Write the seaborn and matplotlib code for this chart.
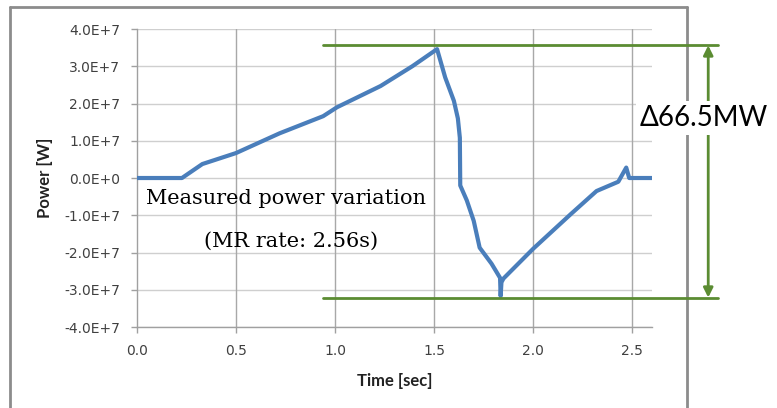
import numpy as np
import pandas as pd
import matplotlib
matplotlib.use("Agg")
import matplotlib.pyplot as plt
from matplotlib.lines import Line2D
from matplotlib.ticker import FuncFormatter
import seaborn as sns

# Measured power curve (time in s, power in 1e7 W)
time_s = [0.0, 0.227, 0.33, 0.5, 0.72, 0.94, 1.01, 1.23, 1.39, 1.515,
          1.556, 1.6, 1.62, 1.63, 1.632, 1.665, 1.70, 1.73, 1.79, 1.833,
          1.836, 1.84, 1.85, 2.0, 2.19, 2.32, 2.43, 2.47, 2.485, 2.6]
power_1e7 = [0.0, 0.0, 0.375, 0.67, 1.2, 1.66, 1.9, 2.47, 3.0, 3.46,
             2.7, 2.07, 1.6, 1.08, -0.2, -0.6, -1.15, -1.87, -2.3, -2.68,
             -3.17, -2.8, -2.7, -1.9, -0.97, -0.35, -0.1, 0.28, 0.0, 0.0]

# Max / min reference lines and annotation
max_line = 3.56e7
min_line = -3.21e7
line_x = [0.94, 2.934]
arrow_x = 2.884
delta_label = "\u039466.5MW"
note_lines = ["Measured power variation", "(MR rate: 2.56s)"]

x_ticks = [0.0, 0.5, 1.0, 1.5, 2.0, 2.5]
y_ticks = [-4e7, -3e7, -2e7, -1e7, 0, 1e7, 2e7, 3e7, 4e7]

df = pd.DataFrame({"time": time_s, "power": np.array(power_1e7) * 1e7})

sns.set_theme(style="white")
plt.rcParams['font.family'] = ['DejaVu Sans']

BLUE = "#4a7ebb"
GREEN = "#5b8c32"
GRID_H = "#cfcfcf"
GRID_V = "#a8a8a8"
TXT = "#404040"

fig = plt.figure(figsize=(7.77, 4.08), dpi=100)
ax = fig.add_axes([0.1763, 0.1985, 0.6628, 0.7304])

sns.lineplot(data=df, x="time", y="power", sort=False, estimator=None,
             color=BLUE, linewidth=3.0, ax=ax, zorder=3)

ax.set_xlim(0, 2.6)
ax.set_ylim(-4e7, 4e7)
ax.set_xticks(x_ticks)
ax.set_yticks(y_ticks)


def sci_fmt(v, pos):
    if v == 0:
        return "0.0E+0"
    return f"{v / 1e7:.1f}E+7"


ax.yaxis.set_major_formatter(FuncFormatter(sci_fmt))
ax.xaxis.set_major_formatter(FuncFormatter(lambda v, p: f"{v:.1f}"))

for y in y_ticks:
    ax.axhline(y, color=GRID_H, lw=1.0, zorder=1)
for x in x_ticks[1:]:
    ax.axvline(x, color=GRID_V, lw=1.0, zorder=1)

for s in ["top", "right"]:
    ax.spines[s].set_visible(False)
for s in ["left", "bottom"]:
    ax.spines[s].set_color("#a0a0a0")
    ax.spines[s].set_linewidth(1.0)

ax.tick_params(axis="both", direction="out", length=4, width=1,
               color="#a0a0a0", labelcolor=TXT, labelsize=10, pad=8)
ax.tick_params(axis="x", bottom=True)
ax.tick_params(axis="y", left=True)

ax.set_xlabel("Time [sec]", fontsize=12, fontweight="bold", color="#222222",
              family=["Lato", "DejaVu Sans"])
ax.set_ylabel("Power [W]", fontsize=12, fontweight="bold", color="#222222",
              family=["Lato", "DejaVu Sans"])
ax.xaxis.set_label_coords(0.5, -0.155)
ax.yaxis.set_label_coords(-0.163, 0.5)

# green max/min lines and double arrow
ax.plot(line_x, [max_line, max_line], color=GREEN, lw=2, clip_on=False, zorder=4)
ax.plot(line_x, [min_line, min_line], color=GREEN, lw=2, clip_on=False, zorder=4)
ax.annotate("", xy=(arrow_x, max_line), xytext=(arrow_x, min_line),
            arrowprops=dict(arrowstyle="<|-|>", color=GREEN, lw=2,
                            mutation_scale=14, shrinkA=0, shrinkB=0),
            annotation_clip=False, zorder=4)

# outer chart frame
frame_kw = dict(color="#8c8c8c", lw=2, transform=fig.transFigure, zorder=0)
fig.add_artist(Line2D([0.0129, 0.0129], [-0.05, 0.983], **frame_kw))
fig.add_artist(Line2D([0.0129, 0.884], [0.983, 0.983], **frame_kw))
fig.add_artist(Line2D([0.884, 0.884], [-0.05, 0.983], **frame_kw))

fig.text(0.906, 0.71, delta_label, fontsize=20, color="black",
         family=["Lato", "DejaVu Sans"], ha="center", va="center",
         bbox=dict(facecolor="white", edgecolor="none", pad=3), zorder=5)

ax.text(0.75, -0.55e7, note_lines[0], fontsize=15, family="DejaVu Serif",
        ha="center", va="center", color="black", zorder=5)
ax.text(0.78, -1.7e7, note_lines[1], fontsize=15, family="DejaVu Serif",
        ha="center", va="center", color="black", zorder=5)

fig.savefig("out.png", dpi=100, facecolor="white")
